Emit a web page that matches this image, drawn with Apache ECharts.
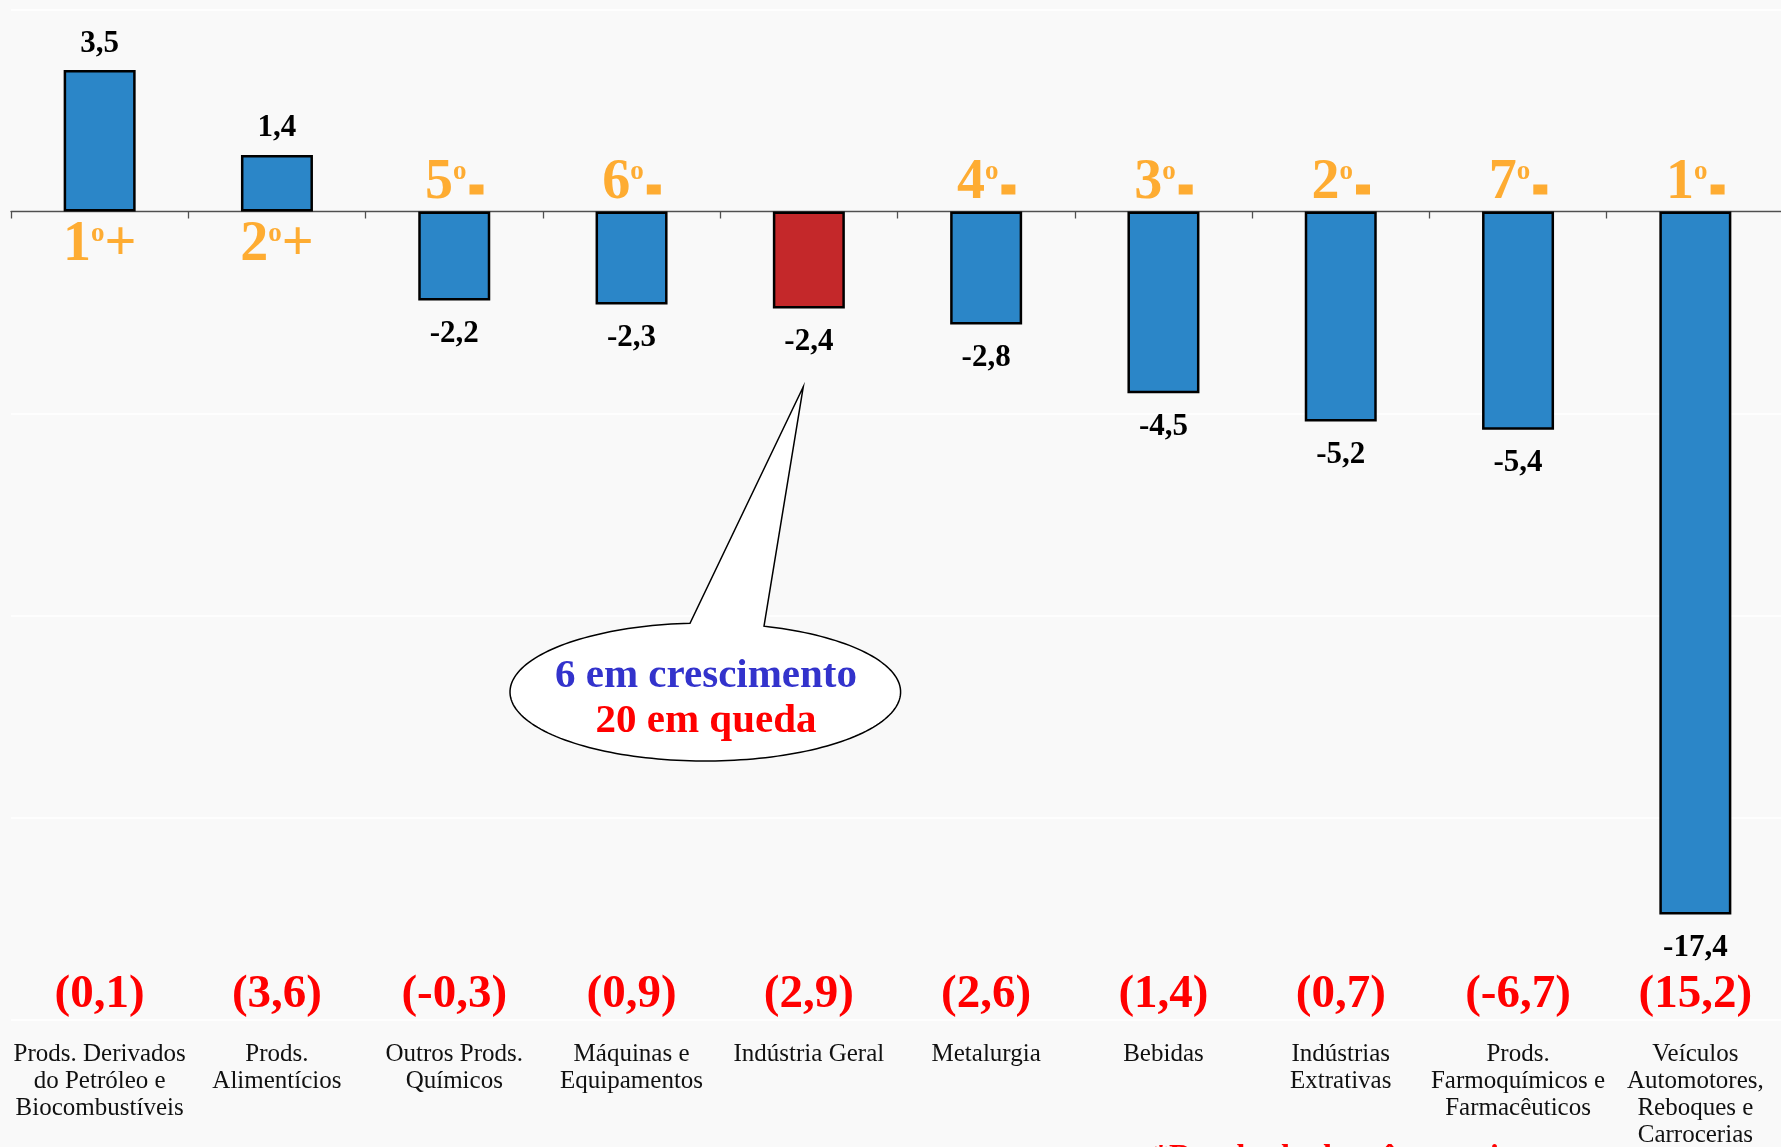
<!DOCTYPE html>
<html>
<head>
<meta charset="utf-8">
<script src="https://cdn.jsdelivr.net/npm/echarts@6/dist/echarts.min.js"></script>
<style>
html,body{margin:0;padding:0;background:#f9f9f9;}
#chart{width:1781px;height:1147px;}
</style>
</head>
<body>
<div id="chart"></div>
<script>
// ---- data ----
const categories = [
  'Prods. Derivados\ndo Petróleo e\nBiocombustíveis',
  'Prods.\nAlimentícios',
  'Outros Prods.\nQuímicos',
  'Máquinas e\nEquipamentos',
  'Indústria Geral',
  'Metalurgia',
  'Bebidas',
  'Indústrias\nExtrativas',
  'Prods.\nFarmoquímicos e\nFarmacêuticos',
  'Veículos\nAutomotores,\nReboques e\nCarrocerias'
];
const values = [3.5, 1.4, -2.2, -2.3, -2.4, -2.8, -4.5, -5.2, -5.4, -17.4];
const previousValues = [0.1, 3.6, -0.3, 0.9, 2.9, 2.6, 1.4, 0.7, -6.7, 15.2];
const ranks = [1, 2, 5, 6, null, 4, 3, 2, 7, 1];
const highlightCategory = 'Indústria Geral';
const calloutLines = ['6 em crescimento', '20 em queda'];
const footnote = '*Resultado do mês anterior';
const yMin = -20, yMax = 5, yInterval = 5;

// ---- styling ----
const SERIF = '"Liberation Serif", "Times New Roman", serif';
const BLUE = '#2b86c8', RED_BAR = '#c4282a', ORANGE = '#ff9900', RED = '#ff0000';
const fmt = v => v.toFixed(1).replace('.', ',');

const barData = values.map((v, i) => ({
  value: v,
  itemStyle: { color: categories[i] === highlightCategory ? RED_BAR : BLUE },
  label: { position: v >= 0 ? 'top' : 'bottom', distance: v >= 0 ? 11 : 18 }
}));

const rankData = [];
ranks.forEach((r, i) => {
  if (r == null) return;
  const pos = values[i] >= 0;
  rankData.push({
    value: [i, 0],
    label: {
      position: pos ? 'bottom' : 'top',
      distance: pos ? 5.6 : 17,
      formatter: pos ? '{d|' + r + '}{o|o}{d|+}' : '{d|' + r + '}{o|o}{sp| }{m| }'
    }
  });
});

// callout outline (decoration): pointer + ellipse body
const cx = 705.3, cy = 692, rx = 195.3, ry = 69;
const calloutPts = [[803.3, 386.7]];
const a0 = Math.atan2((626.2 - cy) / ry, (764 - cx) / rx);   // right base
let a1 = Math.atan2((623.2 - cy) / ry, (690 - cx) / rx);     // left base
if (a1 < a0) a1 += 2 * Math.PI;
for (let k = 0; k <= 180; k++) {
  const a = a0 + (a1 - a0) * k / 180;
  calloutPts.push([cx + rx * Math.cos(a), cy + ry * Math.sin(a)]);
}

const chart = echarts.init(document.getElementById('chart'), null, { renderer: 'canvas' });
chart.setOption({
  backgroundColor: '#f9f9f9',
  animation: false,
  grid: { left: 11, right: -3, top: 9.5, bottom: 127.5, containLabel: false, outerBoundsMode: 'none' },
  xAxis: [
    {
      type: 'category',
      data: categories,
      position: 'bottom',
      axisLine: { show: true, onZero: true, lineStyle: { color: '#505050', width: 1.3 } },
      axisTick: { show: true, length: 7, lineStyle: { color: '#505050', width: 1.3 } },
      axisLabel: { show: false },
      splitLine: { show: false }
    },
    {
      type: 'category',
      data: categories,
      position: 'bottom',
      axisLine: { show: false, onZero: false },
      axisTick: { show: false },
      splitLine: { show: false },
      axisLabel: {
        show: true,
        interval: 0,
        margin: -70,
        formatter: (value, idx) =>
          '{p|(' + fmt(previousValues[idx]) + ')}\n' +
          value.split('\n').map(l => '{c|' + l + '}').join('\n'),
        rich: {
          p: { fontFamily: SERIF, fontWeight: 'bold', fontSize: 47, lineHeight: 91, color: RED, align: 'center' },
          c: { fontFamily: SERIF, fontSize: 25, lineHeight: 27, color: '#111111', align: 'center' }
        }
      }
    }
  ],
  yAxis: {
    type: 'value',
    min: yMin, max: yMax, interval: yInterval,
    axisLine: { show: false },
    axisTick: { show: false },
    axisLabel: { show: false },
    splitLine: { show: true, lineStyle: { color: '#ffffff', width: 1.5 } }
  },
  series: [
    {
      type: 'bar',
      xAxisIndex: 0,
      data: barData,
      barWidth: 72,
      itemStyle: { borderColor: '#000000', borderWidth: 2.5 },
      label: {
        show: true,
        formatter: p => fmt(p.value),
        fontFamily: SERIF, fontWeight: 'bold', fontSize: 31, color: '#000000'
      },
      emphasis: { disabled: true },
      silent: true
    },
    {
      type: 'scatter',
      xAxisIndex: 0,
      data: rankData,
      symbolSize: 0,
      label: {
        show: true,
        rich: {
          d: { fontFamily: SERIF, fontWeight: 'bold', fontSize: 56, lineHeight: 38.7, color: ORANGE, verticalAlign: 'top' },
          o: { fontFamily: SERIF, fontWeight: 'bold', fontSize: 27, color: ORANGE, verticalAlign: 'top', padding: [3, 0, 0, 0] },
          sp: { fontSize: 10, width: 3 },
          m: { fontSize: 10, width: 14, height: 10, backgroundColor: ORANGE, verticalAlign: 'bottom' }
        }
      },
      emphasis: { disabled: true },
      silent: true,
      z: 5
    }
  ],
  graphic: [
    {
      type: 'polygon',
      shape: { points: calloutPts },
      style: { fill: '#ffffff', stroke: '#000000', lineWidth: 1.5 },
      z: 10
    },
    {
      type: 'text', x: 706, y: 676.5, z: 11,
      style: { text: calloutLines[0], fill: '#3333cc', font: 'bold 41px ' + SERIF, align: 'center', verticalAlign: 'middle' }
    },
    {
      type: 'text', x: 706, y: 721.5, z: 11,
      style: { text: calloutLines[1], fill: RED, font: 'bold 41px ' + SERIF, align: 'center', verticalAlign: 'middle' }
    },
    {
      type: 'text', x: 1153, y: 1158, z: 11,
      style: { text: footnote, fill: RED, font: 'bold 32px ' + SERIF, align: 'left', verticalAlign: 'middle' }
    }
  ]
});
</script>
</body>
</html>
